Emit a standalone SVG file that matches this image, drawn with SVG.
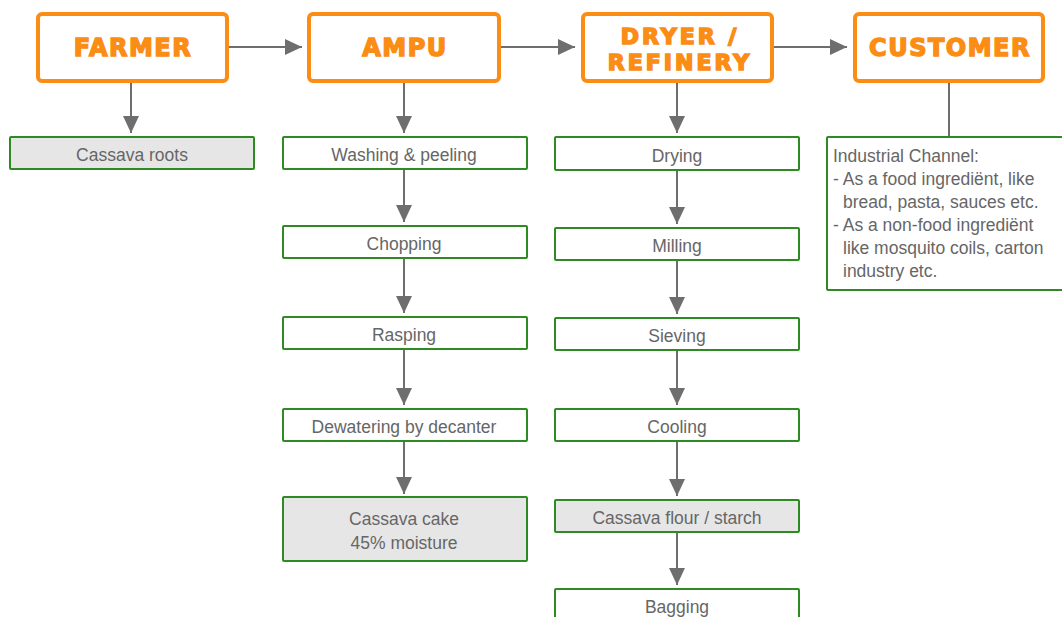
<svg xmlns="http://www.w3.org/2000/svg" width="1062" height="617" viewBox="0 0 1062 617">
<defs>
<marker id="arr" markerUnits="userSpaceOnUse" markerWidth="18" markerHeight="16" refX="17" refY="8" orient="auto">
<path d="M0,0 L17,8 L0,16 Z" fill="#6e6e6e"/>
</marker>
<style>
.ob{fill:#fff;stroke:#fb8c14;stroke-width:4}
.ot{fill:#fb8c14;stroke:#fb8c14;stroke-width:1.4;font-family:"DejaVu Sans",sans-serif;font-weight:bold;font-size:24px;letter-spacing:1.5px;text-anchor:middle}
.ot2{font-size:22px;letter-spacing:3px;stroke-width:1.6}
.gb{fill:#fff;stroke:#2e8b22;stroke-width:2}
.gg{fill:#e6e6e6;stroke:#2e8b22;stroke-width:2}
.t{fill:#666;font-family:"Liberation Sans",Arial,sans-serif;font-size:17.5px;text-anchor:middle}
.tl{fill:#666;font-family:"Liberation Sans",Arial,sans-serif;font-size:17.5px}
.c{stroke:#6e6e6e;stroke-width:2;fill:none}
</style>
</defs>
<rect width="1062" height="617" fill="#fff"/>
<g id="connectors">
<path class="c" d="M227,47 H302" marker-end="url(#arr)"/>
<path class="c" d="M499,47 H575" marker-end="url(#arr)"/>
<path class="c" d="M772,47 H847" marker-end="url(#arr)"/>
<path class="c" d="M131,81 V133" marker-end="url(#arr)"/>
<path class="c" d="M404,81 V133" marker-end="url(#arr)"/>
<path class="c" d="M404,169 V222" marker-end="url(#arr)"/>
<path class="c" d="M404,258 V313" marker-end="url(#arr)"/>
<path class="c" d="M404,349 V405" marker-end="url(#arr)"/>
<path class="c" d="M404,441 V494" marker-end="url(#arr)"/>
<path class="c" d="M677,81 V133" marker-end="url(#arr)"/>
<path class="c" d="M677,170 V224" marker-end="url(#arr)"/>
<path class="c" d="M677,260 V314" marker-end="url(#arr)"/>
<path class="c" d="M677,350 V405" marker-end="url(#arr)"/>
<path class="c" d="M677,441 V496" marker-end="url(#arr)"/>
<path class="c" d="M677,532 V585" marker-end="url(#arr)"/>
<path class="c" d="M949,81 V137"/>
</g>
<g id="farmer"><rect class="ob" x="38" y="14" width="189" height="67" rx="4"/><text class="ot" x="133" y="56">FARMER</text></g>
<g id="ampu"><rect class="ob" x="309" y="14" width="190" height="67" rx="4"/><text class="ot" x="405" y="56">AMPU</text></g>
<g id="dryer"><rect class="ob" x="583" y="14" width="189" height="67" rx="4"/><text class="ot ot2"><tspan x="680" y="44">DRYER /</tspan><tspan x="680" y="70">REFINERY</tspan></text></g>
<g id="customer"><rect class="ob" x="855" y="14" width="188" height="67" rx="4"/><text class="ot" x="950" y="56">CUSTOMER</text></g>
<g id="cassava-roots"><rect class="gg" x="10" y="137" width="244" height="32" rx="1"/><text class="t" x="132" y="161">Cassava roots</text></g>
<g id="washing"><rect class="gb" x="283" y="137" width="244" height="32" rx="1"/><text class="t" x="404" y="161">Washing &amp; peeling</text></g>
<g id="chopping"><rect class="gb" x="283" y="226" width="244" height="32" rx="1"/><text class="t" x="404" y="250">Chopping</text></g>
<g id="rasping"><rect class="gb" x="283" y="317" width="244" height="32" rx="1"/><text class="t" x="404" y="341">Rasping</text></g>
<g id="dewatering"><rect class="gb" x="283" y="409" width="244" height="32" rx="1"/><text class="t" x="404" y="433">Dewatering by decanter</text></g>
<g id="cassava-cake"><rect class="gg" x="283" y="497" width="244" height="64" rx="1"/><text class="t" x="404" y="525">Cassava cake</text><text class="t" x="404" y="549">45% moisture</text></g>
<g id="drying"><rect class="gb" x="555" y="137" width="244" height="33" rx="1"/><text class="t" x="677" y="162">Drying</text></g>
<g id="milling"><rect class="gb" x="555" y="228" width="244" height="32" rx="1"/><text class="t" x="677" y="252">Milling</text></g>
<g id="sieving"><rect class="gb" x="555" y="318" width="244" height="32" rx="1"/><text class="t" x="677" y="342">Sieving</text></g>
<g id="cooling"><rect class="gb" x="555" y="409" width="244" height="32" rx="1"/><text class="t" x="677" y="433">Cooling</text></g>
<g id="cassava-flour"><rect class="gg" x="555" y="500" width="244" height="32" rx="1"/><text class="t" x="677" y="524">Cassava flour / starch</text></g>
<g id="bagging"><rect class="gb" x="555" y="589" width="244" height="40" rx="1"/><text class="t" x="677" y="613">Bagging</text></g>
<g id="industrial-channel"><rect class="gb" x="827" y="137" width="245" height="153" rx="1"/>
<text class="tl" x="833" y="162">Industrial Channel:</text>
<text class="tl" x="833" y="185">- As a food ingrediënt, like</text>
<text class="tl" x="843" y="208">bread, pasta, sauces etc.</text>
<text class="tl" x="833" y="231">- As a non-food ingrediënt</text>
<text class="tl" x="843" y="254">like mosquito coils, carton</text>
<text class="tl" x="843" y="277">industry etc.</text>
</g>
</svg>
